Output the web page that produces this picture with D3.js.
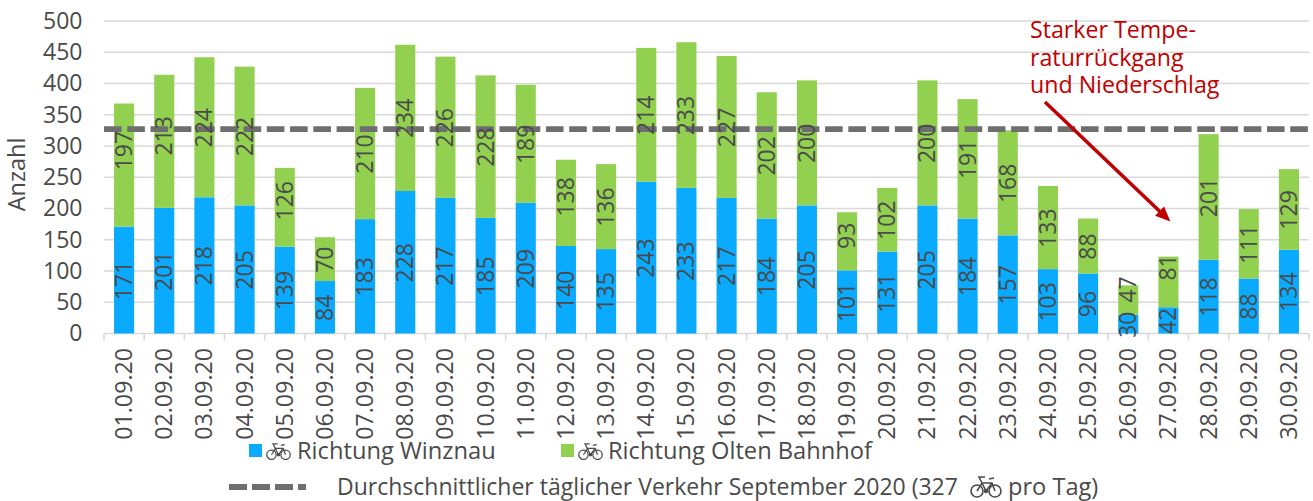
<!DOCTYPE html>
<html><head><meta charset="utf-8"><script src="https://cdn.jsdelivr.net/npm/d3@7"></script>
<style>html,body{margin:0;background:#fff}svg{display:block}text{font-family:"Open Sans",sans-serif;fill:#4a4a4a}</style></head>
<body><svg id="c" width="1313" height="501"></svg>
<script>
const dates=["01.09.20","02.09.20","03.09.20","04.09.20","05.09.20","06.09.20","07.09.20","08.09.20","09.09.20","10.09.20","11.09.20","12.09.20","13.09.20","14.09.20","15.09.20","16.09.20","17.09.20","18.09.20","19.09.20","20.09.20","21.09.20","22.09.20","23.09.20","24.09.20","25.09.20","26.09.20","27.09.20","28.09.20","29.09.20","30.09.20"];
const winznau=[171,201,218,205,139,84,183,228,217,185,209,140,135,243,233,217,184,205,101,131,205,184,157,103,96,30,42,118,88,134];
const olten=[197,213,224,222,126,70,210,234,226,228,189,138,136,214,233,227,202,200,93,102,200,191,168,133,88,47,81,201,111,129];
const yTicks=[0,50,100,150,200,250,300,350,400,450,500];
const average=327;
const noteLines=["Starker Tempe-","raturrückgang","und Niederschlag"];
const legendNames=["Richtung Winznau","Richtung Olten Bahnhof"];
const avgText=["Durchschnittlicher täglicher Verkehr September 2020 (327","pro Tag)"];
// manual label shifts seen in the reference (px upward), by date
const oltenLabelLift={"01.09.20":15,"02.09.20":6,"05.09.20":7,"12.09.20":6.5,"19.09.20":6,"26.09.20":11,"27.09.20":15};

const svg=d3.select("#c");
const FS=23;
const x=d3.scaleBand().domain(dates).range([104,1309]).paddingInner(0.5).paddingOuter(0.25);
const band=d3.scaleBand().domain(dates).range([104,1309]);
const y=d3.scaleLinear().domain([0,500]).range([333.5,21]);
const grid="#d9d9d9",blue="#0aaaff",green="#92d050",dash="#6e6e6e",red="#c00000",ink="#4a4a4a";

svg.append("g").selectAll("line").data(yTicks.slice(1)).join("line")
 .attr("x1",104).attr("x2",1309).attr("y1",d=>y(d)).attr("y2",d=>y(d)).attr("stroke",grid).attr("stroke-width",1.6);
const gy=svg.append("g").attr("transform","translate(82.5,0)").call(d3.axisLeft(y).tickValues(yTicks).tickSize(0).tickPadding(0));
gy.select(".domain").remove();
gy.selectAll("text").attr("font-size",FS).style("fill",ink).style("font-family",'"Open Sans",sans-serif');

const xg=svg.append("g").attr("transform","translate(0,333.5)");
xg.append("line").attr("x1",104).attr("x2",1309).attr("stroke",grid).attr("stroke-width",1.6);
const edges=dates.map(d=>band(d)).concat(band.range()[1]);
xg.selectAll("line.t").data(edges).join("line").attr("class","t").attr("x1",d=>d).attr("x2",d=>d).attr("y1",0).attr("y2",7).attr("stroke",grid).attr("stroke-width",1.6);
xg.selectAll("text").data(dates).join("text").attr("transform",d=>`translate(${x(d)+x.bandwidth()/2+8},14.5) rotate(-90)`).attr("text-anchor","end").attr("font-size",FS+0.2).text(d=>d);
svg.append("text").attr("transform","translate(25,174.5) rotate(-90)").attr("text-anchor","middle").attr("font-size",FS+0.5).text("Anzahl");

const bars=svg.append("g");
bars.selectAll("rect.w").data(dates).join("rect").attr("class","w").attr("fill",blue).attr("x",d=>x(d)).attr("width",x.bandwidth()).attr("y",(d,i)=>y(winznau[i])).attr("height",(d,i)=>y(0)-y(winznau[i]));
bars.selectAll("rect.o").data(dates).join("rect").attr("class","o").attr("fill",green).attr("x",d=>x(d)).attr("width",x.bandwidth()).attr("y",(d,i)=>y(winznau[i]+olten[i])).attr("height",(d,i)=>y(0)-y(olten[i]));
svg.append("line").attr("x1",104).attr("x2",1309).attr("y1",y(average)).attr("y2",y(average)).attr("stroke",dash).attr("stroke-width",5.8).attr("stroke-dasharray","17.6 5.66");

const lab=svg.append("g");
dates.forEach((d,i)=>{
 const cx=x(d)+x.bandwidth()/2+8;
 lab.append("text").attr("transform",`translate(${cx},${y(winznau[i]/2)+0.5}) rotate(-90)`).attr("text-anchor","middle").attr("font-size",FS).text(winznau[i]);
 lab.append("text").attr("transform",`translate(${cx},${y(winznau[i]+olten[i]/2)+0.5-(oltenLabelLift[d]||0)}) rotate(-90)`).attr("text-anchor","middle").attr("font-size",FS).text(olten[i]);
});

function bike(px,py,w){
 const s=w/32, g=svg.append("g").attr("transform",`translate(${px},${py}) scale(${s})`)
  .attr("fill","none").attr("stroke",ink).attr("stroke-width",1.6);
 g.append("circle").attr("cx",7).attr("cy",15).attr("r",6);
 g.append("circle").attr("cx",25).attr("cy",15).attr("r",6);
 g.append("path").attr("d","M7 15 L12 7 L22 7 L25 15 M12 7 L16 15 L22 7 M15 1 L9 1 L12 7 M19 3 L24 2");
 g.append("circle").attr("cx",16).attr("cy",15).attr("r",1.4).attr("fill",ink);
}
const leg=[{sx:249,ix:266,tx:297,c:blue,n:legendNames[0]},{sx:561,ix:578,tx:608,c:green,n:legendNames[1]}];
leg.forEach(l=>{
 svg.append("rect").attr("x",l.sx).attr("y",444).attr("width",13).attr("height",13).attr("fill",l.c);
 bike(l.ix,443,25);
 svg.append("text").attr("x",l.tx).attr("y",459).attr("font-size",23.7).text(l.n);
});
svg.append("line").attr("x1",229).attr("x2",306).attr("y1",487).attr("y2",487).attr("stroke",dash).attr("stroke-width",5.8).attr("stroke-dasharray","18 5");
svg.append("text").attr("x",337).attr("y",494.5).attr("font-size",FS).text(avgText[0]);
bike(970,476,32);
svg.append("text").attr("x",1008).attr("y",494.5).attr("font-size",23.6).text(avgText[1]);

const noteBase=[38,66,93];
const note=svg.append("text").attr("font-size",23.2).style("fill",red);
noteLines.forEach((t,i)=>note.append("tspan").attr("x",1030).attr("y",noteBase[i]).style("fill",red).text(t));
const ay0=102, ax0=1045, ax1=x("27.09.20")+x.bandwidth()/2+2, ay1=221.5;
const ang=Math.atan2(ay1-ay0,ax1-ax0), hl=15, hw=6.5;
svg.append("line").attr("x1",ax0).attr("y1",ay0).attr("x2",ax1-Math.cos(ang)*hl*.8).attr("y2",ay1-Math.sin(ang)*hl*.8).attr("stroke",red).attr("stroke-width",3.5);
const bx=ax1-Math.cos(ang)*hl, by=ay1-Math.sin(ang)*hl;
svg.append("path").attr("fill",red).attr("d",d3.line()([[ax1,ay1],[bx-Math.sin(ang)*hw,by+Math.cos(ang)*hw],[bx+Math.sin(ang)*hw,by-Math.cos(ang)*hw]])+"Z");
</script></body></html>
